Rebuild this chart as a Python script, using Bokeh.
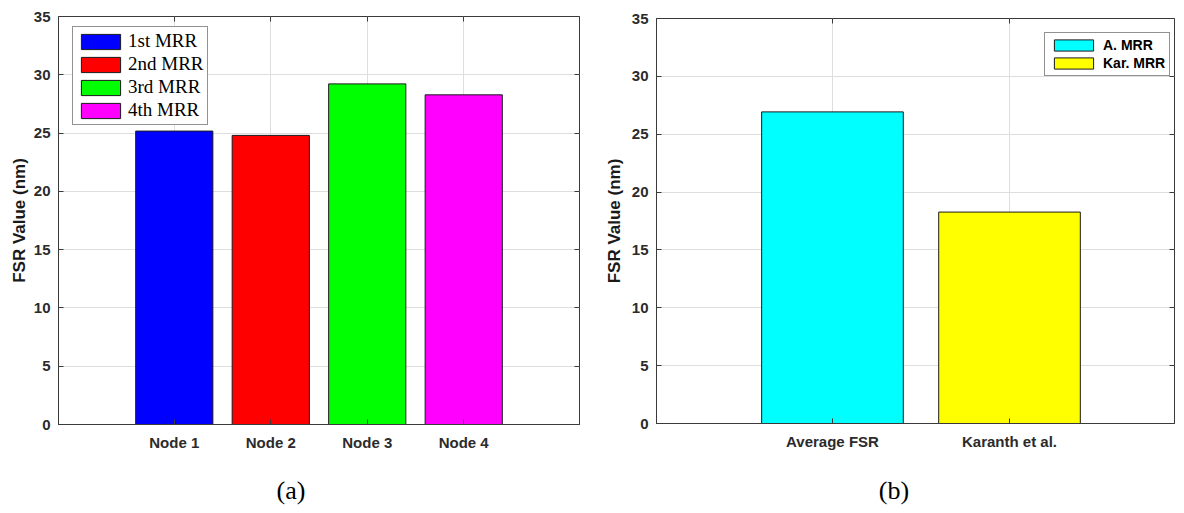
from bokeh.plotting import figure
from bokeh.models import ColumnDataSource, FixedTicker, LinearAxis, Range1d, Div
from bokeh.layouts import row, column
from bokeh.embed import file_html
from bokeh.resources import INLINE

# ---- data ----
node_names = ["Node 1", "Node 2", "Node 3", "Node 4"]
node_fsr = [25.17, 24.80, 29.22, 28.28]
node_labels = ["1st MRR", "2nd MRR", "3rd MRR", "4th MRR"]
node_colors = ["#0000ff", "#ff0000", "#00ff00", "#ff00ff"]

cmp_names = ["Average FSR", "Karanth et al."]
cmp_fsr = [26.93, 18.27]
cmp_labels = ["A. MRR", "Kar. MRR"]
cmp_colors = ["#00ffff", "#ffff00"]

y_ticks = [0, 5, 10, 15, 20, 25, 30, 35]
y_label = "FSR Value (nm)"
captions = ["(a)", "(b)"]

AX = "#3a3a3a"
GRID = "#dedede"


def make_panel(names, vals, labels, colors, x_end, frame_w, frame_h,
               border_top, border_left, border_right, border_bottom,
               label_standoff, legend_loc, legend_style):
    xs = list(range(1, len(names) + 1))
    src = ColumnDataSource(dict(x=xs, top=vals, label=labels, color=colors))
    p = figure(frame_width=frame_w, frame_height=frame_h,
               x_range=Range1d(x_end[0], x_end[1]), y_range=Range1d(0, 35),
               output_backend="svg", toolbar_location=None,
               min_border_top=border_top, min_border_left=border_left,
               min_border_right=border_right, min_border_bottom=border_bottom)
    p.vbar(x="x", top="top", width=0.8, source=src, fill_color="color",
           line_color="#1a1a1a", line_width=1, legend_field="label")

    p.outline_line_color = AX
    p.outline_line_width = 1
    p.background_fill_color = "white"

    for ax in (p.xaxis[0], p.yaxis[0]):
        ax.axis_line_color = AX
        ax.major_tick_line_color = AX
        ax.major_tick_in = 5
        ax.major_tick_out = 0
        ax.minor_tick_line_color = None
        ax.major_label_text_font = "Liberation Sans"
        ax.major_label_text_font_style = "bold"
        ax.major_label_text_font_size = "15px"
        ax.major_label_text_color = "#2b2b2b"
        ax.major_label_standoff = 8

    p.xaxis[0].ticker = FixedTicker(ticks=xs)
    p.xaxis[0].major_label_overrides = {x: n for x, n in zip(xs, names)}
    p.xaxis[0].major_label_standoff = 9
    p.yaxis[0].ticker = FixedTicker(ticks=y_ticks)
    p.yaxis[0].axis_label = y_label
    p.yaxis[0].axis_label_text_font = "Liberation Sans"
    p.yaxis[0].axis_label_text_font_style = "bold"
    p.yaxis[0].axis_label_text_font_size = "17px"
    p.yaxis[0].axis_label_text_color = "#1a1a1a"
    p.yaxis[0].axis_label_standoff = label_standoff

    # mirrored ticks on the top and right edges (box style), no labels
    for loc, tick in (("above", xs), ("right", y_ticks)):
        a = LinearAxis(ticker=FixedTicker(ticks=tick))
        a.axis_line_color = None
        a.major_tick_line_color = AX
        a.major_tick_in = 5
        a.major_tick_out = 0
        a.minor_tick_line_color = None
        a.major_label_text_font_size = "1px"
        a.major_label_text_color = None
        a.major_label_standoff = 0
        p.add_layout(a, loc)

    p.xgrid.ticker = FixedTicker(ticks=xs)
    p.ygrid.ticker = FixedTicker(ticks=y_ticks)
    p.xgrid.grid_line_color = GRID
    p.ygrid.grid_line_color = GRID

    lg = p.legend[0]
    lg.location = legend_loc
    lg.border_line_color = "#262626"
    lg.border_line_width = 1
    lg.background_fill_alpha = 1.0
    for k, v in legend_style.items():
        setattr(lg, k, v)
    return p


def make_caption(text, width, pad_left):
    style = ("font-family:'Liberation Serif',serif;font-size:26px;line-height:26px;"
             "text-align:center;color:black;padding-left:%dpx;box-sizing:border-box;"
             "width:%dpx;" % (pad_left, width))
    return Div(text='<div style="%s">%s</div>' % (style, text),
               width=width, height=26, margin=0,
               styles={"font-family": "Liberation Serif", "font-size": "26px",
                       "line-height": "26px"})


left_legend = dict(label_text_font="Liberation Serif", label_text_font_size="19px",
                   label_text_color="black", glyph_width=49, glyph_height=19,
                   label_standoff=3, spacing=1, padding=3)
right_legend = dict(label_text_font="Liberation Sans", label_text_font_style="bold",
                    label_text_font_size="14px", label_text_color="black",
                    glyph_width=49, glyph_height=14, label_standoff=5,
                    spacing=2, padding=4)

p1 = make_panel(node_names, node_fsr, node_labels, node_colors, (-0.2, 5.2),
                521, 408, 16, 58, 21, 54, 2, (14, 299), left_legend)
p2 = make_panel(cmp_names, cmp_fsr, cmp_labels, cmp_colors, (0.006, 2.932),
                518, 405, 18, 56, 2, 55, 5, (388, 347), right_legend)

cap1 = make_caption(captions[0], 582, 0)
cap2 = make_caption(captions[1], 576, 12)

layout = row(column(p1, cap1), column(p2, cap2))
open("out.html", "w").write(file_html(layout, INLINE))
